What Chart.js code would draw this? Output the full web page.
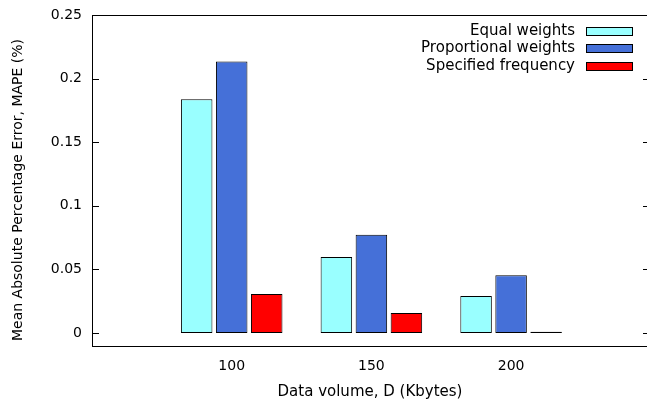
<!DOCTYPE html>
<html>
<head>
<meta charset="utf-8">
<script src="https://cdn.jsdelivr.net/npm/chart.js@4"></script>
<style>
  html, body { margin: 0; padding: 0; overflow: hidden; background: #fff; }
  #wrap { width: 650px; height: 401px; }
</style>
</head>
<body>
<div id="wrap"><canvas id="grafico"></canvas></div>
<script>
// datos
const volumenes = [100, 150, 200];
const pesosIguales = [0.1837, 0.0598, 0.0291];
const pesosProporcionales = [0.2134, 0.0772, 0.0454];
const frecuenciaEspecificada = [0.0307, 0.0157, 0.001];
const nombresSeries = ['Equal weights', 'Proportional weights', 'Specified frequency'];
const coloresSeries = ['#99ffff', '#4570d8', '#ff0000'];
const ticksY = [0, 0.05, 0.1, 0.15, 0.2, 0.25];
const tituloY = 'Mean Absolute Percentage Error, MAPE (%)';

const fuente = 'DejaVu Sans';

function puntos(valores) {
    return volumenes.map((v, i) => ({ x: v, y: valores[i] }));
}

// marco, marcas hacia adentro y titulo del eje Y, al estilo gnuplot
const marcoPlugin = {
    id: 'marco',
    afterDraw(chart) {
        const ctx = chart.ctx;
        const a = chart.chartArea;
        const y = chart.scales.y;
        ctx.save();
        ctx.strokeStyle = '#000';
        ctx.lineWidth = 1;
        ctx.beginPath();
        y.ticks.forEach(t => {
            const py = Math.round(y.getPixelForValue(t.value)) + 0.5;
            ctx.moveTo(a.left, py); ctx.lineTo(a.left + 7, py);
            ctx.moveTo(a.right - 5, py); ctx.lineTo(a.right, py);
        });
        ctx.stroke();
        ctx.strokeRect(Math.round(a.left) + 0.5, Math.round(a.top) + 0.5,
            Math.round(a.right - a.left), Math.round(a.bottom - a.top));

        ctx.translate(18, 190);
        ctx.rotate(-Math.PI / 2);
        ctx.font = '14px "' + fuente + '"';
        ctx.fillStyle = '#000';
        ctx.textAlign = 'center';
        ctx.textBaseline = 'middle';
        ctx.fillText(tituloY, 0, 0);
        ctx.restore();
    }
};

// leyenda: texto alineado a la derecha y muestra a la derecha
const leyendaPlugin = {
    id: 'leyendaGnuplot',
    afterDraw(chart) {
        const ctx = chart.ctx;
        ctx.save();
        ctx.font = '15px "' + fuente + '"';
        ctx.textAlign = 'right';
        ctx.textBaseline = 'middle';
        chart.data.datasets.forEach((ds, i) => {
            const cy = 31 + i * 17.4;
            ctx.fillStyle = '#000';
            ctx.fillText(ds.label, 575, cy);
            ctx.fillStyle = ds.backgroundColor;
            ctx.fillRect(586, Math.round(cy - 4), 46, 8);
            ctx.strokeStyle = '#000';
            ctx.lineWidth = 1;
            ctx.strokeRect(586.5, Math.round(cy - 4) + 0.5, 46, 8);
        });
        ctx.restore();
    }
};

const ctx = document.getElementById('grafico').getContext('2d');
new Chart(ctx, {
    type: 'bar',
    data: {
        datasets: [
            { label: nombresSeries[0], data: puntos(pesosIguales), backgroundColor: coloresSeries[0] },
            { label: nombresSeries[1], data: puntos(pesosProporcionales), backgroundColor: coloresSeries[1] },
            { label: nombresSeries[2], data: puntos(frecuenciaEspecificada), backgroundColor: coloresSeries[2] }
        ]
    },
    options: {
        responsive: true,
        maintainAspectRatio: false,
        animation: false,
        layout: { padding: { top: 15, right: 2, left: 0, bottom: 0 } },
        datasets: {
            bar: {
                borderColor: '#000',
                borderWidth: 1,
                borderSkipped: false,
                categoryPercentage: 0.752,
                barPercentage: 0.9
            }
        },
        plugins: {
            legend: { display: false },
            tooltip: { enabled: false }
        },
        scales: {
            x: {
                type: 'linear',
                offset: false,
                min: 50,
                max: 249,
                afterBuildTicks: s => { s.ticks = volumenes.map(v => ({ value: v })); },
                afterFit: s => { s.height = 55; s.paddingLeft = 0; s.paddingRight = 0; },
                grid: { display: false, drawTicks: false },
                border: { display: false },
                ticks: {
                    color: '#000',
                    font: { family: fuente, size: 14 },
                    padding: 12,
                    callback: v => String(v)
                },
                title: {
                    display: true,
                    text: 'Data volume, D (Kbytes)',
                    color: '#000',
                    font: { family: fuente, size: 15 },
                    padding: { top: 4, bottom: 0 }
                }
            },
            y: {
                min: -0.0102,
                max: 0.25,
                afterBuildTicks: s => { s.ticks = ticksY.map(v => ({ value: v })); },
                afterFit: s => { s.width = 92; s.paddingTop = 0; s.paddingBottom = 0; },
                grid: { display: false, drawTicks: false },
                border: { display: false },
                ticks: {
                    color: '#000',
                    font: { family: fuente, size: 14 },
                    padding: 10,
                    callback: v => String(v)
                }
            }
        }
    },
    plugins: [marcoPlugin, leyendaPlugin]
});
</script>
</body>
</html>
